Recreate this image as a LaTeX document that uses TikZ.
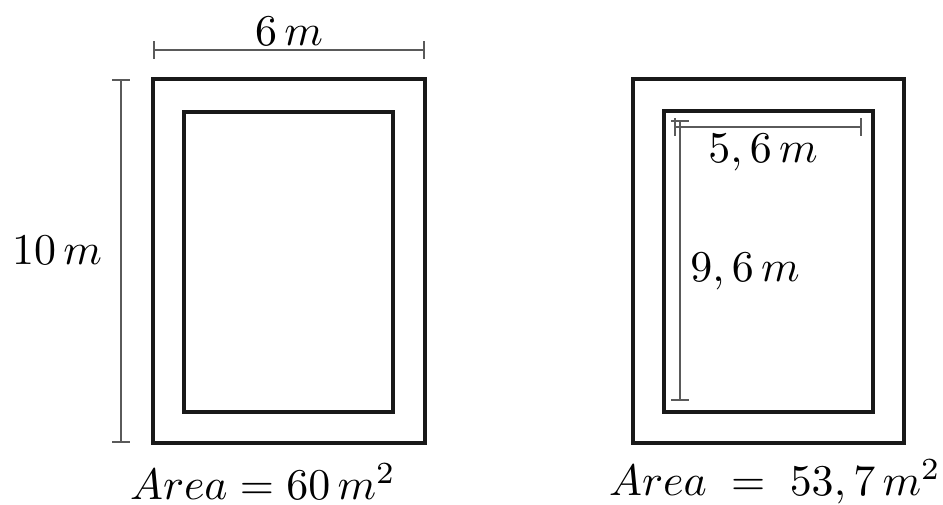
\documentclass[tikz,border=0pt]{standalone}
\usepackage{amsmath,amssymb}
\usepackage{xcolor}
\usepackage{tikz}
\usetikzlibrary{arrows.meta}
\definecolor{figline}{RGB}{25,25,25}
\definecolor{figdim}{RGB}{90,90,90}
\tikzset{
  wall/.style ={draw=figline, line width=0.8pt},
  dim/.style  ={draw=figdim, line width=0.4pt, {Bar[width=4pt]}-{Bar[width=4pt]}},
  lab/.style  ={font=\normalsize, inner sep=1pt},
}
\begin{document}
\begin{tikzpicture}[x=0.08mm,y=-0.08mm]
  \useasboundingbox (0,0) rectangle (943,504);
  % left plot
  \draw[wall] (153,79) rectangle (425,443);
  \draw[wall] (184,112) rectangle (393,412);
  \coordinate (wa) at (153,50);
  \coordinate (wb) at (425,50);
  \coordinate (ha) at (121,79);
  \coordinate (hb) at (121,443);
  \draw[dim] (wa) -- (wb);
  \draw[dim] (ha) -- (hb);
  \node[lab] (lw) at (289,31) {$6\,m$};
  \node[lab] (lh) at (57,250) {$10\,m$};
  \node[lab] (la) at (263,482) {$Area = 60\,m^2$};
  % right plot
  \draw[wall] (633,79) rectangle (904,443);
  \draw[wall] (664,111) rectangle (873,412);
  \coordinate (ia) at (674,127);
  \coordinate (ib) at (862,127);
  \coordinate (ja) at (680,120);
  \coordinate (jb) at (680,401);
  \draw[dim] (ia) -- (ib);
  \draw[dim] (ja) -- (jb);
  \node[lab] (rw) at (763,153) {$5,6\,m$};
  \node[lab] (rh) at (745,272) {$9,6\,m$};
  \node[lab] (ra) at (775,482) {$Area\;=\;53,7\,m^2$};
\end{tikzpicture}
\end{document}
